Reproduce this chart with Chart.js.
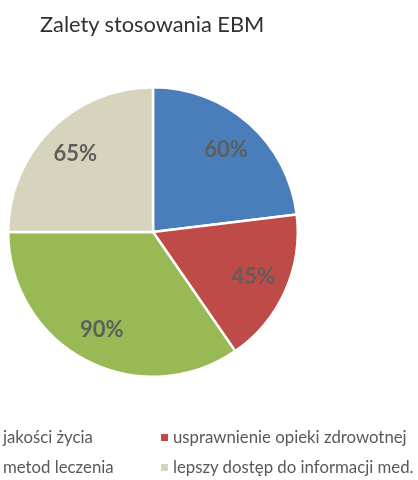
<!DOCTYPE html>
<html>
<head>
<meta charset="utf-8">
<script src="https://cdn.jsdelivr.net/npm/chart.js@4"></script>
<style>
  html, body { margin: 0; padding: 0; background: #fff; overflow: hidden; }
  #wrap { position: relative; width: 418px; height: 480px; }
  #wykres { position: absolute; left: 0; top: 0; }
  #tytul {
    position: absolute; left: 40px; top: 10px;
    font-family: Lato, sans-serif; font-size: 21.8px; color: #303030;
    white-space: nowrap;
  }
  .poz {
    position: absolute; font-family: Lato, sans-serif; font-size: 16.8px;
    color: #595959; white-space: nowrap; line-height: 18px;
  }
  .poz span.znak {
    display: inline-block; width: 7px; height: 7px; margin-right: 5px;
    vertical-align: 2px;
  }
</style>
</head>
<body>
<div id="wrap">
  <canvas id="wykres" width="418" height="480"></canvas>
  <div id="tytul">Zalety stosowania EBM</div>
  <div id="legenda"></div>
</div>
<script>
// dane wykresu
const kategorie = [
  "jakości życia",
  "usprawnienie opieki zdrowotnej",
  "metod leczenia",
  "lepszy dostęp do informacji med.",
];
const wartosci = [60, 45, 90, 65];
const kolory = ["#4A7EBB", "#BE4B48", "#98B954", "#D7D4BE"];

// etykiety procentowe na wycinkach
const etykietyPlugin = {
  id: "etykiety",
  afterDatasetsDraw(chart) {
    const ctx = chart.ctx;
    const meta = chart.getDatasetMeta(0);
    ctx.save();
    ctx.font = "bold 22px Lato, sans-serif";
    ctx.fillStyle = "#5E5E5E";
    ctx.textAlign = "center";
    ctx.textBaseline = "middle";
    meta.data.forEach((arc, i) => {
      const { x, y, startAngle, endAngle, outerRadius } = arc.getProps(
        ["x", "y", "startAngle", "endAngle", "outerRadius"],
        true
      );
      const kat = (startAngle + endAngle) / 2;
      const r = outerRadius * 0.76;
      ctx.fillText(
        chart.data.datasets[0].data[i] + "%",
        x + Math.cos(kat) * r,
        y + Math.sin(kat) * r
      );
    });
    ctx.restore();
  },
};

new Chart(document.getElementById("wykres"), {
  type: "pie",
  data: {
    labels: kategorie,
    datasets: [
      {
        data: wartosci,
        backgroundColor: kolory,
        borderColor: "#ffffff",
        borderWidth: 2.5,
      },
    ],
  },
  options: {
    responsive: false,
    animation: false,
    layout: {
      padding: { left: 7, right: 119, top: 86, bottom: 102 },
    },
    plugins: {
      legend: { display: false },
      tooltip: { enabled: false },
    },
  },
  plugins: [etykietyPlugin],
});

// legenda 2x2 (lewa kolumna wychodzi poza krawędź)
const legenda = document.getElementById("legenda");
const pozycje = [
  { left: -9, top: 428 },
  { left: 161, top: 428 },
  { left: -9, top: 458 },
  { left: 161, top: 458 },
];
kategorie.forEach((nazwa, i) => {
  const el = document.createElement("div");
  el.className = "poz";
  el.style.left = pozycje[i].left + "px";
  el.style.top = pozycje[i].top + "px";
  const znak = document.createElement("span");
  znak.className = "znak";
  znak.style.background = kolory[i];
  el.appendChild(znak);
  el.appendChild(document.createTextNode(nazwa));
  legenda.appendChild(el);
});
</script>
</body>
</html>
